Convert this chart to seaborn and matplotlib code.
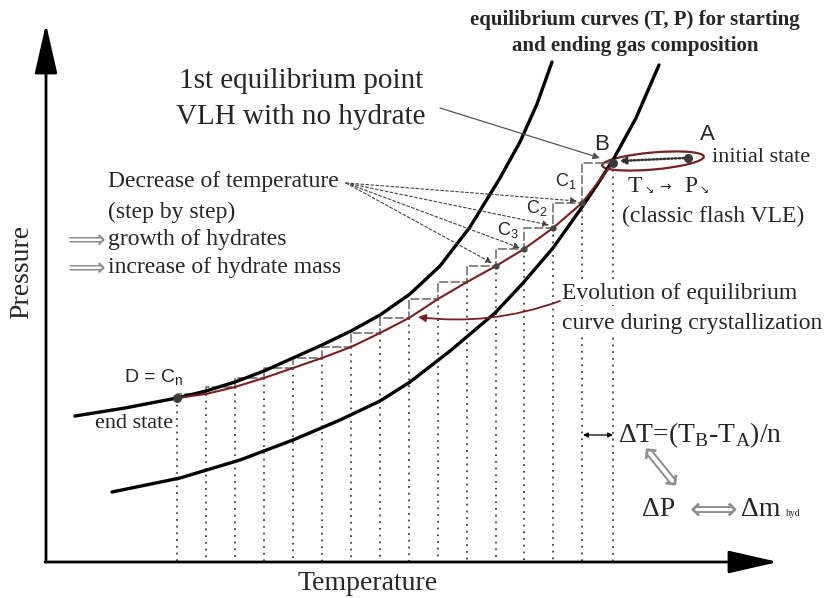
import matplotlib
matplotlib.use("Agg")
import matplotlib.pyplot as plt
import seaborn as sns
from matplotlib.patches import Ellipse

sns.set_style("white")
plt.rcParams["font.family"] = ["Liberation Serif", "DejaVu Sans"]
plt.rcParams["mathtext.fontset"] = "custom"
plt.rcParams["mathtext.rm"] = "Liberation Serif"
plt.rcParams["mathtext.sf"] = "Liberation Sans"

# sketch units: x = temperature, y = pressure (pixel rows of the drawing, top = high P)
# equilibrium curve of the ending gas composition (left / upper one, through D)
end_curve_T = [75, 125, 177, 206, 235, 264, 293, 322, 351, 380, 410, 440, 470, 500, 520, 537, 552]
end_curve_P = [416, 408, 398, 391, 382, 371, 358, 345, 331, 315, 294, 266, 227, 178, 142, 104, 62]

# equilibrium curve of the starting gas composition (right / lower one, through B)
start_curve_T = [112, 180, 240, 293, 340, 380, 410, 450, 495, 523, 553, 580, 597, 613, 636, 659]
start_curve_P = [492, 478, 460, 440, 420, 401, 382, 351, 313, 283, 248, 210, 185, 160, 118, 65]

# crystallization path D = Cn ... C3, C2, C1, B  (n = 15 temperature steps)
step_T = [177, 206, 235, 264, 293, 322, 351, 380, 409, 438, 467, 496, 524, 553, 582, 613]
step_P = [398, 394, 387, 378, 368, 358, 347, 333, 318, 299, 282, 266, 249, 228, 203, 163]

point_A = (688, 158)
c_labels = ["C$_\\mathsf{1}$", "C$_\\mathsf{2}$", "C$_\\mathsf{3}$"]

dark_red = "#7a1f22"
step_grey = "#6f6464"
arrow_grey = "#8e8e8e"

fig = plt.figure(figsize=(8.29, 5.98), dpi=100)
ax = fig.add_axes([0, 0, 1, 1])
ax.set_xlim(0, 829)
ax.set_ylim(598, 0)
ax.axis("off")

# axes arrows
ax.annotate("", xy=(46, 24), xytext=(46, 562),
            arrowprops=dict(arrowstyle="-|>,head_length=1.4,head_width=0.32", lw=2, color="black",
                            mutation_scale=22, shrinkA=0, shrinkB=0))
ax.annotate("", xy=(778, 562), xytext=(45, 562),
            arrowprops=dict(arrowstyle="-|>,head_length=1.4,head_width=0.32", lw=2, color="black",
                            mutation_scale=22, shrinkA=0, shrinkB=0))
ax.text(22, 272, "Pressure", rotation=90, ha="center", va="center", fontsize=20)
ax.text(368, 583, "Temperature", ha="center", va="center", fontsize=20)

# vertical dotted lines for each temperature step
ax.vlines(step_T, step_P, 561, colors="#222222", linestyles=(0, (1.2, 3.2)), lw=1.1)

# staircase
ax.plot(step_T, step_P, drawstyle="steps-pre", color=step_grey, lw=1.1, ls=(0, (6, 1.5)))

# equilibrium curves
sns.lineplot(x=end_curve_T, y=end_curve_P, sort=False, estimator=None, color="black", lw=2.4, ax=ax)
sns.lineplot(x=start_curve_T, y=start_curve_P, sort=False, estimator=None, color="black", lw=2.4, ax=ax)
sns.lineplot(x=step_T, y=step_P, sort=False, estimator=None, color=dark_red, lw=1.5, ax=ax)

# points
ax.scatter([step_T[0], step_T[-1], point_A[0]], [step_P[0], step_P[-1], point_A[1]],
           s=30, color="#3a3a3a", zorder=5)
ax.scatter(step_T[-5:-1], step_P[-5:-1], s=12, color="#444444", zorder=5)

# flash ellipse A -> B
ax.add_patch(Ellipse((653, 161), 102, 17, angle=-5, fill=False, ec=dark_red, lw=1.6))
ax.annotate("", xy=(619, 161), xytext=(684, 158),
            arrowprops=dict(arrowstyle="-|>", lw=1.8, ls=(0, (0.6, 0.9)), color="#333333",
                            mutation_scale=10, shrinkA=0, shrinkB=0))

# point labels
sans = ["Liberation Sans", "DejaVu Sans"]
ax.text(602, 145, "B", family=sans, fontsize=16, ha="center", va="center")
ax.text(707, 134, "A", family=sans, fontsize=16, ha="center", va="center")
for (tx, ty), lab in zip([(566, 181), (537, 208), (508, 230)], c_labels):
    ax.text(tx, ty, lab, family=sans, fontsize=13, ha="center", va="center")
ax.text(154, 378, "D = C$_\\mathsf{n}$", family=sans, fontsize=14, ha="center", va="center")
ax.text(134, 424, "end state", fontsize=16, ha="center", va="center")
ax.text(712, 158, "initial state", fontsize=16, ha="left", va="center")

# title
ax.text(635, 20, "equilibrium curves (T, P) for starting", fontsize=15, fontweight="bold",
        ha="center", va="center")
ax.text(635, 46, "and ending gas composition", fontsize=15, fontweight="bold",
        ha="center", va="center")

# first equilibrium point
ax.text(301, 81, "1st equilibrium point", fontsize=21, ha="center", va="center")
ax.text(301, 117, "VLH with no hydrate", fontsize=21, ha="center", va="center")
ax.annotate("", xy=(600, 158), xytext=(440, 108),
            arrowprops=dict(arrowstyle="-|>", lw=0.9, color="#555555", mutation_scale=10,
                            shrinkA=0, shrinkB=0))

# step-by-step text
ax.text(108, 182, "Decrease of temperature", fontsize=17, ha="left", va="center")
ax.text(108, 212, "(step by step)", fontsize=17, ha="left", va="center")
ax.text(108, 240, "growth of hydrates", fontsize=17, ha="left", va="center")
ax.text(108, 268, "increase of hydrate mass", fontsize=17, ha="left", va="center")
for yy in [240, 268]:
    ax.text(86, yy + 1, "\u27f9", family=["DejaVu Sans"], fontsize=19, color=arrow_grey,
            ha="center", va="center")
for tx, ty in [(577, 201), (549, 225), (520, 248), (492, 263)]:
    ax.annotate("", xy=(tx, ty), xytext=(346, 183),
                arrowprops=dict(arrowstyle="-|>", lw=0.8, ls=(0, (2.5, 2)), color="#444444",
                                mutation_scale=9, shrinkA=0, shrinkB=0))

# flash text
ax.text(628, 186, "T", fontsize=17, ha="left", va="center")
ax.text(649, 190, "\u2198", family=["DejaVu Sans"], fontsize=8, ha="center", va="center")
ax.text(665, 187, "\u2192", family=["DejaVu Sans"], fontsize=10, ha="center", va="center")
ax.text(684, 186, "P", fontsize=17, ha="left", va="center")
ax.text(704, 190, "\u2198", family=["DejaVu Sans"], fontsize=8, ha="center", va="center")
ax.text(622, 216, "(classic flash VLE)", fontsize=17, ha="left", va="center")

# evolution text
bb = dict(facecolor="white", edgecolor="none", pad=1)
ax.text(562, 293, "Evolution of equilibrium", fontsize=17, ha="left", va="center", bbox=bb)
ax.text(562, 323, "curve during crystallization", fontsize=17, ha="left", va="center", bbox=bb)
ax.annotate("", xy=(418, 317), xytext=(560, 301),
            arrowprops=dict(arrowstyle="-|>", lw=1.3, color=dark_red, mutation_scale=11,
                            connectionstyle="arc3,rad=-0.12", shrinkA=0, shrinkB=0))

# delta relations
ax.annotate("", xy=(583, 435), xytext=(613, 435),
            arrowprops=dict(arrowstyle="<|-|>", lw=0.9, color="black", mutation_scale=7,
                            shrinkA=0, shrinkB=0))
ax.text(618, 435, "\u0394T=(T$_\\mathrm{B}$-T$_\\mathrm{A}$)/n", fontsize=20, ha="left", va="center")
ax.text(658, 468, "\u27fa", family=["DejaVu Sans"], fontsize=25, color=arrow_grey, rotation=-51,
        ha="center", va="center")
ax.text(642, 509, "\u0394P", fontsize=20, ha="left", va="center")
ax.text(713, 510, "\u27fa", family=["DejaVu Sans"], fontsize=24, color=arrow_grey,
        ha="center", va="center")
ax.text(741, 509, "\u0394m", fontsize=20, ha="left", va="center")
ax.text(786, 514, "hyd", fontsize=7, ha="left", va="center")

fig.savefig("out.png", dpi=100)
